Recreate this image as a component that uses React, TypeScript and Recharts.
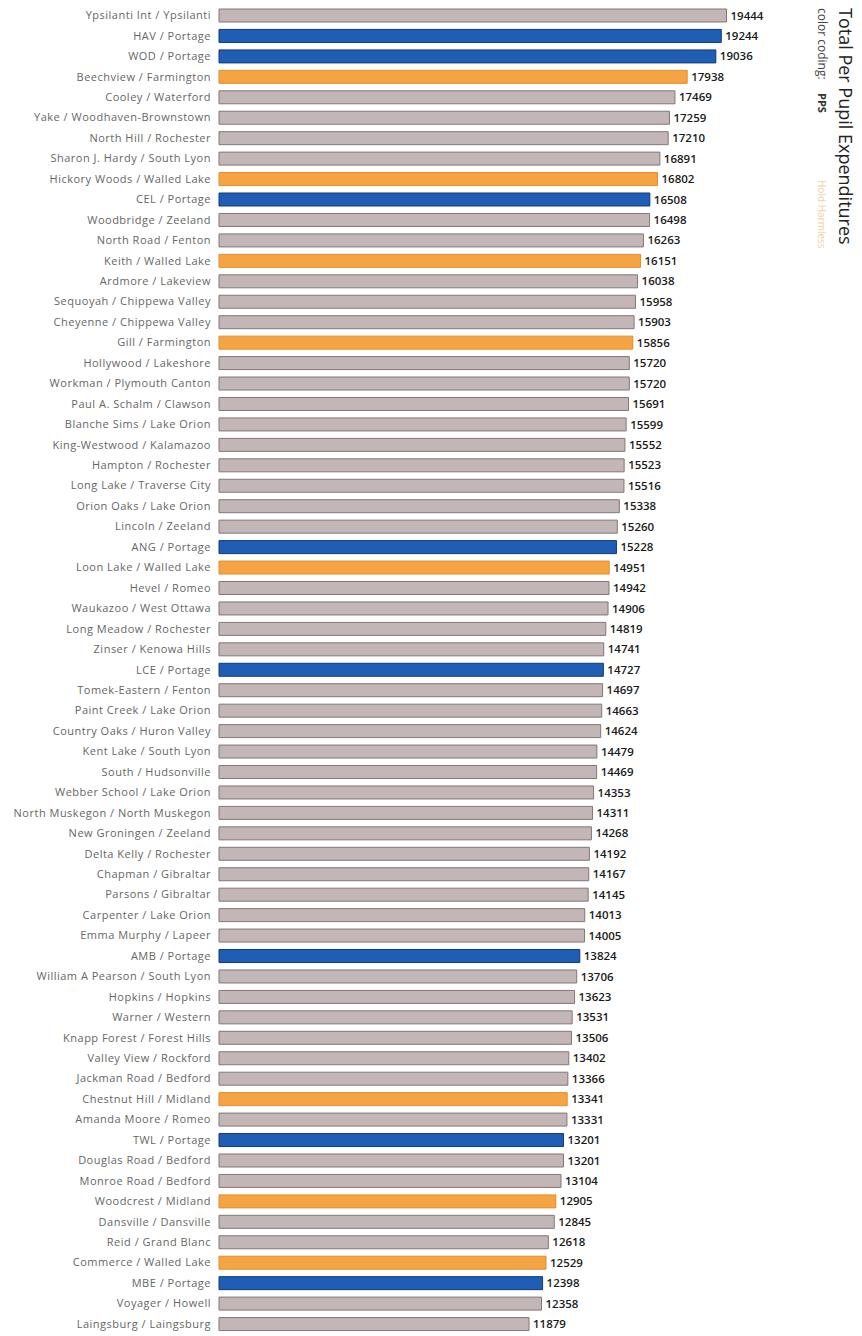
import React from "react";
import { BarChart, Bar, XAxis, YAxis, Cell, LabelList } from "recharts";

const schools = [
  "Ypsilanti Int / Ypsilanti",
  "HAV / Portage",
  "WOD / Portage",
  "Beechview / Farmington",
  "Cooley / Waterford",
  "Yake / Woodhaven-Brownstown",
  "North Hill / Rochester",
  "Sharon J. Hardy / South Lyon",
  "Hickory Woods / Walled Lake",
  "CEL / Portage",
  "Woodbridge / Zeeland",
  "North Road / Fenton",
  "Keith / Walled Lake",
  "Ardmore / Lakeview",
  "Sequoyah / Chippewa Valley",
  "Cheyenne / Chippewa Valley",
  "Gill / Farmington",
  "Hollywood / Lakeshore",
  "Workman / Plymouth Canton",
  "Paul A. Schalm / Clawson",
  "Blanche Sims / Lake Orion",
  "King-Westwood / Kalamazoo",
  "Hampton / Rochester",
  "Long Lake / Traverse City",
  "Orion Oaks / Lake Orion",
  "Lincoln / Zeeland",
  "ANG / Portage",
  "Loon Lake / Walled Lake",
  "Hevel / Romeo",
  "Waukazoo / West Ottawa",
  "Long Meadow / Rochester",
  "Zinser / Kenowa Hills",
  "LCE / Portage",
  "Tomek-Eastern / Fenton",
  "Paint Creek / Lake Orion",
  "Country Oaks / Huron Valley",
  "Kent Lake / South Lyon",
  "South / Hudsonville",
  "Webber School / Lake Orion",
  "North Muskegon / North Muskegon",
  "New Groningen / Zeeland",
  "Delta Kelly / Rochester",
  "Chapman / Gibraltar",
  "Parsons / Gibraltar",
  "Carpenter / Lake Orion",
  "Emma Murphy / Lapeer",
  "AMB / Portage",
  "William A Pearson / South Lyon",
  "Hopkins / Hopkins",
  "Warner / Western",
  "Knapp Forest / Forest Hills",
  "Valley View / Rockford",
  "Jackman Road / Bedford",
  "Chestnut Hill / Midland",
  "Amanda Moore / Romeo",
  "TWL / Portage",
  "Douglas Road / Bedford",
  "Monroe Road / Bedford",
  "Woodcrest / Midland",
  "Dansville / Dansville",
  "Reid / Grand Blanc",
  "Commerce / Walled Lake",
  "MBE / Portage",
  "Voyager / Howell",
  "Laingsburg / Laingsburg",
];

const expenditures = [
  19444, 19244, 19036, 17938, 17469, 17259, 17210, 16891, 16802, 16508,
  16498, 16263, 16151, 16038, 15958, 15903, 15856, 15720, 15720, 15691,
  15599, 15552, 15523, 15516, 15338, 15260, 15228, 14951, 14942, 14906,
  14819, 14741, 14727, 14697, 14663, 14624, 14479, 14469, 14353, 14311,
  14268, 14192, 14167, 14145, 14013, 14005, 13824, 13706, 13623, 13531,
  13506, 13402, 13366, 13341, 13331, 13201, 13201, 13104, 12905, 12845,
  12618, 12529, 12398, 12358, 11879,
];

// "o" = other, "p" = PPS, "h" = Hold Harmless
const coding = [
  "o", "p", "p", "h", "o", "o", "o", "o", "h", "p",
  "o", "o", "h", "o", "o", "o", "h", "o", "o", "o",
  "o", "o", "o", "o", "o", "o", "p", "h", "o", "o",
  "o", "o", "p", "o", "o", "o", "o", "o", "o", "o",
  "o", "o", "o", "o", "o", "o", "p", "o", "o", "o",
  "o", "o", "o", "h", "o", "p", "o", "o", "h", "o",
  "o", "h", "p", "o", "o",
];

const fills: Record<string, string> = { o: "#c2b6b6", p: "#1f5eb4", h: "#f5a443" };
const strokes: Record<string, string> = { o: "#857577", p: "#0f3a7c", h: "#e38d2c" };

const data = schools.map((name, i) => ({ name, value: expenditures[i], code: coding[i] }));

const CategoryTick = (props: any) => {
  const { x, y, payload } = props;
  return (
    <text
      x={x}
      y={y}
      dy={4}
      textAnchor="end"
      fill="#666"
      fontSize={11}
      fontFamily="Open Sans"
      letterSpacing={0.5}
    >
      {payload.value}
    </text>
  );
};

export default function App() {
  return (
    <div style={{ position: "absolute", left: 0, top: 0, width: 862, height: 1336, background: "#fff" }}>
      <BarChart
        width={862}
        height={1336}
        data={data}
        layout="vertical"
        margin={{ top: 5, right: 121, bottom: 2, left: 0 }}
      >
        <XAxis type="number" domain={[0, 20000]} hide />
        <YAxis
          type="category"
          dataKey="name"
          width={219}
          interval={0}
          axisLine={false}
          tickLine={false}
          tick={<CategoryTick />}
        />
        <Bar dataKey="value" barSize={13} isAnimationActive={false} strokeWidth={1}>
          {data.map((d, i) => (
            <Cell key={i} fill={fills[d.code]} stroke={strokes[d.code]} />
          ))}
          <LabelList
            dataKey="value"
            position="right"
            offset={4}
            style={{ fill: "#1a1a1a", fontSize: 11.5, fontFamily: "Open Sans", fontWeight: 600 }}
          />
        </Bar>
      </BarChart>
      <svg width={862} height={1336} style={{ position: "absolute", left: 0, top: 0, pointerEvents: "none" }}>
        <text
          transform="translate(839,8) rotate(90)"
          fontFamily="Open Sans"
          fontSize={18}
          fill="#222"
        >
          Total Per Pupil Expenditures
        </text>
        <text transform="translate(818,8) rotate(90)" fontFamily="Open Sans" fontSize={12} fill="#444">
          color coding:
        </text>
        <text transform="translate(818,93) rotate(90)" fontFamily="Open Sans" fontSize={11} fontWeight={700} fill="#333">
          PPS
        </text>
        <text transform="translate(818,180) rotate(90)" fontFamily="Open Sans" fontSize={10} fill="#f2cf9f">
          Hold Harmless
        </text>
      </svg>
    </div>
  );
}
